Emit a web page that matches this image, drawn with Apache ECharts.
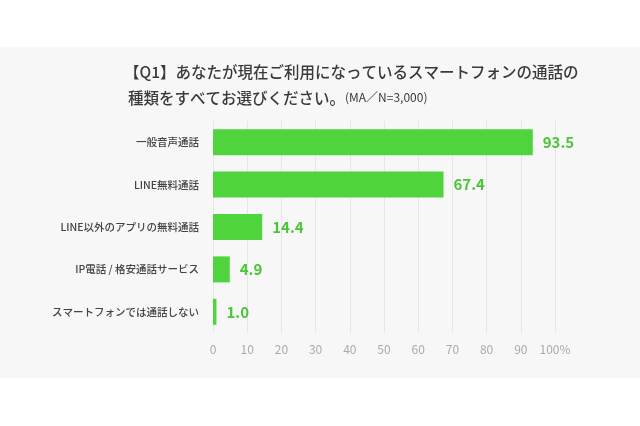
<!DOCTYPE html><html><head><meta charset="utf-8"><script src="https://cdn.jsdelivr.net/npm/echarts@6/dist/echarts.min.js"></script>
<style>html,body{margin:0;background:#fff}#c{width:640px;height:426px}</style></head><body><div id="c"></div><script>
const categories=['一般音声通話','LINE無料通話','LINE以外のアプリの無料通話','IP電話 / 格安通話サービス','スマートフォンでは通話しない'];
const values=[93.5,67.4,14.4,4.9,1.0];
const tickLabels=['0','10','20','30','40','50','60','70','80','90','100%'];
const font='"Noto Sans CJK JP", sans-serif';
const ch=echarts.init(document.getElementById('c'));
ch.setOption({
 animation:false,
 graphic:[{type:'rect',shape:{x:0,y:47,width:640,height:331},style:{fill:'#f7f7f7'},z:-10},
 {type:'text',left:124,top:64,style:{text:'【Q1】あなたが現在ご利用になっているスマートフォンの通話の',fill:'#3a3a3a',font:'500 15.5px '+font}},
 {type:'text',left:128,top:90,style:{rich:{a:{fill:'#3a3a3a',font:'500 15.5px '+font},b:{fill:'#3a3a3a',font:'12px '+font}},text:'{a|種類をすべてお選びください。}{b|(MA／N=3,000)}'}}],
 grid:{left:213,right:85,top:121,bottom:93},
 xAxis:{type:'value',min:0,max:100,interval:10,axisLine:{show:false},axisTick:{show:false},
  splitLine:{lineStyle:{color:'#e6e6e6'}},
  axisLabel:{color:'#aaa',fontSize:12,fontFamily:font,margin:10,formatter:v=>tickLabels[Math.round(v/10)]}},
 yAxis:{type:'category',inverse:true,data:categories,axisLine:{show:false},axisTick:{show:false},
  axisLabel:{color:'#444',fontSize:10.5,fontWeight:500,fontFamily:font,margin:14}},
 series:[{type:'bar',data:values,barWidth:26,itemStyle:{color:'#50d43e'},
  label:{show:true,position:'right',distance:10,color:'#4cc43a',fontWeight:'bold',fontSize:15,fontFamily:font,formatter:p=>p.value.toFixed(1)}}]
});
</script></body></html>
